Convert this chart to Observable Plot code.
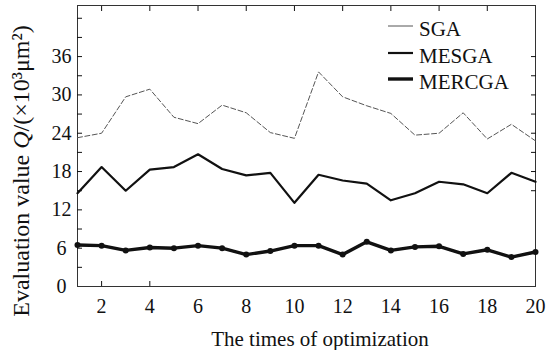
<!DOCTYPE html>
<html><head><meta charset="utf-8">
<script src="https://cdn.jsdelivr.net/npm/d3@7"></script>
<script src="https://cdn.jsdelivr.net/npm/@observablehq/plot@0.6"></script>
<style>
body{margin:0;background:#fff;}
#chart{position:relative;width:547px;height:350px;}
#chart svg text{font-family:"Liberation Serif","Times New Roman",serif;}
</style></head><body><div id="chart"></div>
<script>
const runs = [1,2,3,4,5,6,7,8,9,10,11,12,13,14,15,16,17,18,19,20];
const sga = [23.3,24.0,29.7,30.9,26.5,25.5,28.4,27.2,24.1,23.2,33.6,29.7,28.3,27.1,23.7,24.0,27.2,23.1,25.4,22.8];
const mesga = [14.6,18.7,15.0,18.3,18.7,20.7,18.4,17.4,17.8,13.1,17.5,16.6,16.1,13.5,14.6,16.4,16.0,14.6,17.8,16.4];
const mercga = [6.5,6.4,5.65,6.1,6.0,6.4,6.0,5.0,5.55,6.4,6.4,5.0,7.0,5.65,6.2,6.3,5.1,5.75,4.6,5.4];
const seriesNames = ["SGA","MESGA","MERCGA"];
const xTickLabels = [2,4,6,8,10,12,14,16,18,20];
const xTopTicks = [2,4,6,8,10,12,14,16,18];
const xBottomTicks = [2,4];
const yTickLabels = [0,6,12,18,24,30,36];
const yLeftTicks = [3,6,9,12,15,18,21,24,27,30,33,36,39,42];
const yRightTicks = [15,18,21,24,27,30,33,36];

const font = "Liberation Serif, Times New Roman, serif";
const rows = (vals) => vals.map((v,i) => ({run: runs[i], value: v}));

const plot = Plot.plot({
  width: 547, height: 350,
  marginLeft: 77, marginRight: 12, marginTop: 5, marginBottom: 64,
  style: {fontFamily: font, fontSize: "20px", color: "#111", background: "white", overflow: "visible"},
  x: {domain: [1, 20]},
  y: {domain: [0, 44]},
  marks: [
    Plot.frame({stroke: "#333", strokeWidth: 1}),
    Plot.axisY(yLeftTicks, {anchor: "left", tickSize: -5, fill: "none", label: null}),
    Plot.axisY(yRightTicks, {anchor: "right", tickSize: -5, fill: "none", label: null}),
    Plot.axisY(yTickLabels, {anchor: "left", tickSize: 0, tickPadding: 16, textAnchor: "middle", label: null, fontFamily: font, fontSize: 20}),
    Plot.axisX(xTopTicks, {anchor: "top", tickSize: -5, fill: "none", label: null}),
    Plot.axisX(xBottomTicks, {anchor: "bottom", tickSize: -5, fill: "none", label: null}),
    Plot.axisX(xTickLabels, {anchor: "bottom", tickSize: 0, tickPadding: 12, label: null, fontFamily: font, fontSize: 20}),
    Plot.line(rows(sga), {x: "run", y: "value", stroke: "#555", strokeWidth: 1, strokeDasharray: "5,2.5"}),
    Plot.line(rows(mesga), {x: "run", y: "value", stroke: "#111", strokeWidth: 2.2}),
    Plot.line(rows(mercga), {x: "run", y: "value", stroke: "#111", strokeWidth: 3.4}),
    Plot.dot(rows(mercga), {x: "run", y: "value", r: 3, fill: "#111"})
  ]
});
document.getElementById("chart").appendChild(plot);

const svg = d3.select(plot);
// axis titles
svg.append("text")
  .attr("x", 320).attr("y", 346)
  .attr("text-anchor", "middle")
  .style("font-size", "21px").attr("fill", "#111")
  .text("The times of optimization");
const yl = svg.append("text")
  .attr("transform", "translate(29,171) rotate(-90)")
  .attr("text-anchor", "middle")
  .style("font-size", "24px").attr("fill", "#111");
yl.append("tspan").text("Evaluation value ");
yl.append("tspan").style("font-style", "italic").text("Q");
yl.append("tspan").text("/(×10³μm²)");

// legend
const legendY = [26, 53, 79];
const legendW = [1, 2.2, 3.4];
const legendC = ["#555", "#111", "#111"];
seriesNames.forEach((name, i) => {
  svg.append("line")
    .attr("x1", 388).attr("x2", 413).attr("y1", legendY[i]).attr("y2", legendY[i])
    .attr("stroke", legendC[i]).attr("stroke-width", legendW[i]);
  svg.append("text")
    .attr("x", 419).attr("y", legendY[i] + 10)
    .attr("text-anchor", "start")
    .style("font-size", "21px").attr("fill", "#111")
    .text(name);
});
</script>
</body></html>
